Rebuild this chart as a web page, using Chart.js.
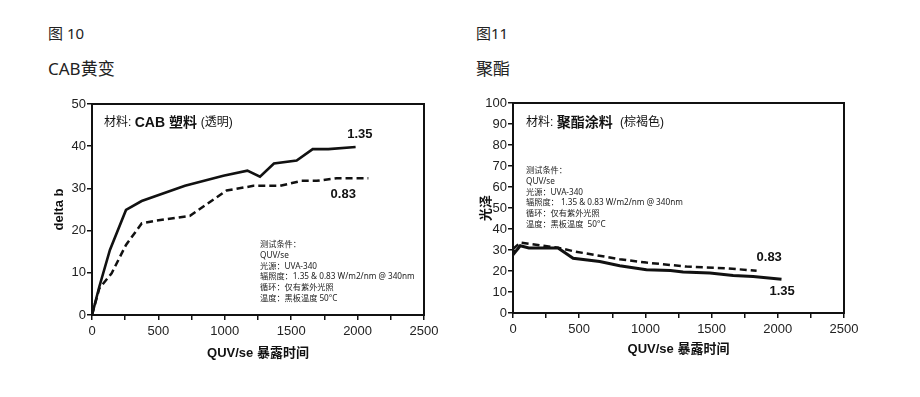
<!DOCTYPE html>
<html>
<head>
<meta charset="utf-8">
<script src="https://cdn.jsdelivr.net/npm/chart.js@4"></script>
<style>
  body { margin: 0; background: #fff; width: 920px; height: 397px; position: relative; overflow: hidden; }
  .head { position: absolute; font-family: "Noto Sans", "Noto Sans CJK SC", sans-serif; color: #222; white-space: nowrap; }
  .fig { font-size: 15px; line-height: 18px; top: 24px; }
  .name { font-size: 17px; line-height: 20px; top: 59px; }
  canvas { position: absolute; top: 0; }
</style>
</head>
<body>
<div class="head fig" style="left:48px">图 10</div>
<div class="head name" style="left:48px">CAB黄变</div>
<div class="head fig" style="left:476px">图11</div>
<div class="head name" style="left:476px">聚酯</div>
<div style="position:absolute;left:0;top:0;width:460px;height:397px"><canvas id="chart1"></canvas></div>
<div style="position:absolute;left:460px;top:0;width:460px;height:397px"><canvas id="chart2"></canvas></div>
<script>
// 图10 CAB 黄变 (delta b)
const cabX135 = [0, 55, 135, 256, 374, 700, 989, 1170, 1265, 1370, 1541, 1662, 1780, 1985];
const cabY135 = [0, 6.7, 15.4, 24.9, 27, 30.6, 33, 34.2, 32.8, 35.9, 36.6, 39.3, 39.3, 39.8];
const cabX083 = [0, 55, 148, 256, 374, 474, 738, 1014, 1215, 1416, 1579, 1692, 1843, 2081];
const cabY083 = [0, 6.3, 9.9, 16.6, 21.7, 22.3, 23.5, 29.5, 30.6, 30.6, 31.8, 31.8, 32.4, 32.4];
const cabLabels = ['1.35', '0.83'];
const cabLabelX = [2017, 1892];
const cabLabelY = [42.9, 28.6];

// 图11 聚酯 (光泽)
const pesX135 = [0, 10, 55, 120, 340, 454, 655, 806, 1008, 1189, 1285, 1487, 1663, 1814, 2028];
const pesY135 = [30, 28.5, 32, 31, 31, 26.1, 24.5, 22.5, 20.6, 20.2, 19.5, 19, 17.9, 17.4, 16.1];
const pesX083 = [0, 55, 340, 466, 806, 1008, 1310, 1613, 1840];
const pesY083 = [30.5, 33.5, 31.1, 29.3, 25.6, 24, 22.1, 21.3, 20.1];
const pesLabels = ['0.83', '1.35'];
const pesLabelX = [1935, 2033];
const pesLabelY = [26.6, 10.3];

const xTicks = [0, 500, 1000, 1500, 2000, 2500];

const notesCab = ['测试条件：', 'QUV/se', '光源：UVA-340', '辐照度：1.35 & 0.83 W/m2/nm @ 340nm', '循环：仅有紫外光照', '温度：黑板温度 50°C'];
const notesPes = ['测试条件：', 'QUV/se', '光源：UVA-340', '辐照度： 1.35 & 0.83 W/m2/nm @ 340nm', '循环：仅有紫外光照', '温度：黑板温度  50°C'];

const SANS = '"Liberation Sans", Arial, "Noto Sans CJK SC", sans-serif';
const NOTE = '"Noto Sans", "Noto Sans CJK SC", sans-serif';

function pts(xs, ys) {
  return xs.map((x, i) => ({ x: x, y: ys[i] }));
}

const boxAndText = {
  id: 'boxAndText',
  afterDraw(chart, args, o) {
    const { ctx, chartArea: a, scales } = chart;
    ctx.save();
    ctx.strokeStyle = '#111';
    ctx.lineWidth = 2;
    ctx.strokeRect(a.left, a.top, a.right - a.left, a.bottom - a.top);

    // title inside the box
    ctx.fillStyle = '#111';
    ctx.textBaseline = 'middle';
    ctx.textAlign = 'left';
    let tx = a.left + o.titleDx;
    o.title.forEach(p => {
      ctx.font = p.font;
      ctx.fillText(p.text, tx, a.top + o.titleDy);
      tx += ctx.measureText(p.text).width;
    });

    // test conditions
    ctx.font = '8.2px ' + NOTE;
    ctx.fillStyle = '#222';
    o.notes.forEach((line, i) => {
      ctx.fillText(line, a.left + o.noteDx, a.top + o.noteDy + i * 10.7);
    });

    // series labels
    ctx.font = 'bold 13px ' + SANS;
    ctx.fillStyle = '#111';
    ctx.textAlign = 'center';
    o.labels.forEach((t, i) => {
      ctx.fillText(t, scales.x.getPixelForValue(o.lx[i]), scales.y.getPixelForValue(o.ly[i]));
    });
    ctx.restore();
  }
};

function makeChart(id, cfg) {
  const ctx = document.getElementById(id).getContext('2d');
  return new Chart(ctx, {
    type: 'line',
    data: {
      datasets: [{
        label: '1.35',
        data: pts(cfg.x1, cfg.y1),
        borderColor: '#111',
        borderWidth: cfg.solidWidth,
        pointRadius: 0,
        tension: 0
      }, {
        label: '0.83',
        data: pts(cfg.x2, cfg.y2),
        borderColor: '#111',
        borderWidth: 2.5,
        borderDash: [7, 4],
        pointRadius: 0,
        tension: 0
      }]
    },
    options: {
      responsive: true,
      maintainAspectRatio: false,
      animation: false,
      layout: { padding: cfg.padding },
      plugins: {
        legend: { display: false },
        tooltip: { enabled: false },
        boxAndText: cfg.box
      },
      scales: {
        x: {
          type: 'linear',
          min: 0, max: 2500,
          afterFit: s => { s.height = cfg.xHeight; },
          ticks: {
            stepSize: 250,
            autoSkip: false,
            maxRotation: 0,
            padding: 4,
            color: '#222',
            font: { family: SANS, size: 13 },
            callback: v => (xTicks.includes(v) ? String(v) : '')
          },
          grid: { drawOnChartArea: false, tickLength: 5, color: '#111', lineWidth: 1.5 },
          border: { color: '#111', width: 2 },
          title: { display: true, text: 'QUV/se 暴露时间', color: '#111', font: { family: SANS, size: 13, weight: 'bold' } }
        },
        y: {
          min: 0, max: cfg.yMax,
          afterFit: s => { s.width = cfg.yWidth; },
          ticks: {
            stepSize: 10,
            padding: 1,
            color: '#222',
            font: { family: SANS, size: 13 }
          },
          grid: { drawOnChartArea: false, tickLength: 5, color: '#111', lineWidth: 1.5 },
          border: { color: '#111', width: 2 },
          title: { display: true, text: cfg.yTitle, color: '#111', font: { family: SANS, size: 13, weight: 'bold' } }
        }
      }
    },
    plugins: [boxAndText]
  });
}

makeChart('chart1', {
  x1: cabX135, y1: cabY135, x2: cabX083, y2: cabY083,
  solidWidth: 2.6,
  yMax: 50, yTitle: 'delta b',
  padding: { left: 48, right: 36, top: 104, bottom: 32 },
  yWidth: 44, xHeight: 50,
  box: {
    title: [
      { text: '材料: ', font: '12px ' + SANS },
      { text: 'CAB 塑料 ', font: 'bold 14px ' + SANS },
      { text: '(透明)', font: '12px ' + SANS }
    ],
    titleDx: 12, titleDy: 19,
    notes: notesCab, noteDx: 168, noteDy: 141,
    labels: cabLabels, lx: cabLabelX, ly: cabLabelY
  }
});

makeChart('chart2', {
  x1: pesX135, y1: pesY135, x2: pesX083, y2: pesY083,
  solidWidth: 3,
  yMax: 100, yTitle: '光泽',
  padding: { left: 15, right: 76, top: 103, bottom: 36 },
  yWidth: 38, xHeight: 48,
  box: {
    title: [
      { text: '材料: ', font: '12px ' + SANS },
      { text: '聚酯涂料 ', font: 'bold 14px ' + SANS },
      { text: ' (棕褐色)', font: '12px ' + SANS }
    ],
    titleDx: 13, titleDy: 20,
    notes: notesPes, noteDx: 13, noteDy: 68,
    labels: pesLabels, lx: pesLabelX, ly: pesLabelY
  }
});
</script>
</body>
</html>
